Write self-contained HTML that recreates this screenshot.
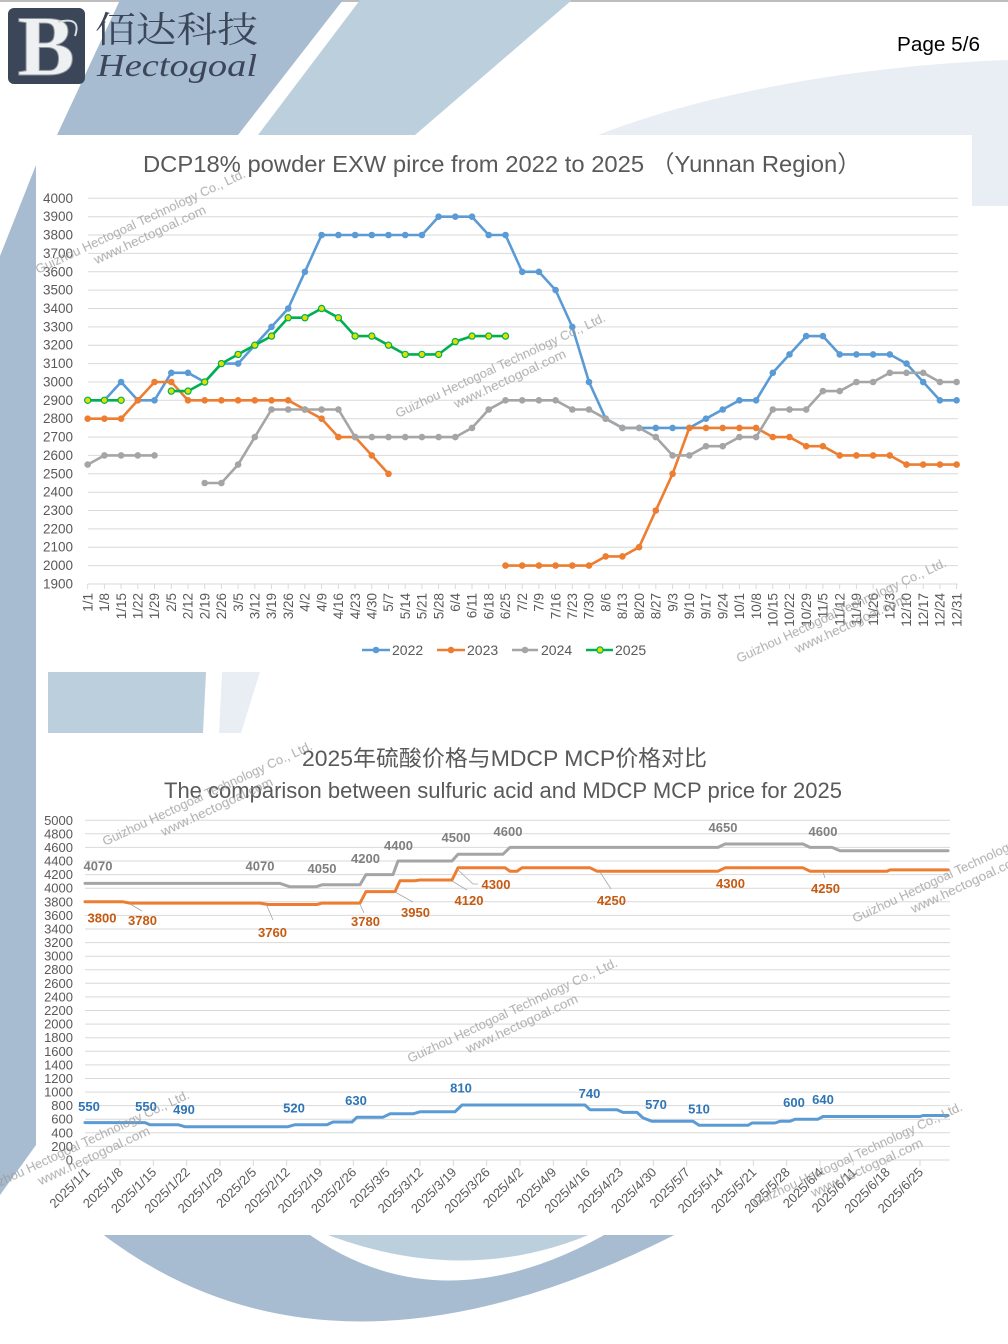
<!DOCTYPE html>
<html><head><meta charset="utf-8"><style>
html,body{margin:0;padding:0;background:#fff}
svg{display:block}
.t{font-family:"Liberation Sans","Noto Sans CJK SC",sans-serif;fill:#595959}
.yl{font-size:13.5px;text-anchor:end}
.yl2{font-size:13px;text-anchor:end}
.xl{font-size:13.5px;text-anchor:end}
.xl2{font-size:13px;text-anchor:end}
.lg{font-size:14px}
.dl{font-family:"Liberation Sans",sans-serif;font-weight:bold;font-size:13px;text-anchor:middle}
.wm{font-family:"Liberation Sans",sans-serif;font-size:13px;fill:#9a9a9a;opacity:.8}
</style></head><body>
<svg xmlns="http://www.w3.org/2000/svg" width="1008" height="1344" viewBox="0 0 1008 1344">
<defs>
<marker id="mb" markerUnits="userSpaceOnUse" markerWidth="10" markerHeight="10" refX="5" refY="5"><circle cx="5" cy="5" r="3.3" fill="#5b9bd5"/></marker>
<marker id="mo" markerUnits="userSpaceOnUse" markerWidth="10" markerHeight="10" refX="5" refY="5"><circle cx="5" cy="5" r="3.3" fill="#ed7d31"/></marker>
<marker id="mg" markerUnits="userSpaceOnUse" markerWidth="10" markerHeight="10" refX="5" refY="5"><circle cx="5" cy="5" r="3.3" fill="#a5a5a5"/></marker>
<marker id="my" markerUnits="userSpaceOnUse" markerWidth="10" markerHeight="10" refX="5" refY="5"><circle cx="5" cy="5" r="3.1" fill="#e2df00" stroke="#00b050" stroke-width="1.2"/></marker>
</defs>

<!-- background -->
<rect width="1008" height="1344" fill="#fff"/>
<rect x="0" y="0" width="1008" height="2" fill="#bdbdbd"/>
<path d="M120,0 L343,0 L238,135 L57,135 Z" fill="#a7bcd1"/>
<path d="M360,0 L572,0 L415,135 L258,135 Z" fill="#bccfdc"/>
<path d="M598,135 C700,95 850,66 1008,60 L1008,206 L972,206 L972,135 Z" fill="#e9eef4"/>
<path d="M36,165 L36,1145 L0,1195 L0,256 Z" fill="#a7bcd1"/>
<path d="M48,672 L206,672 L203,733 L48,733 Z" fill="#bccfdc"/>
<path d="M222,672 L260,672 L241,733 L219,733 Z" fill="#e9eef4"/>
<path d="M97,1230 Q331,1413 684,1230 L613,1230 Q440,1331 303,1230 Z" fill="#a7bcd1"/>
<path d="M315,1230 Q465,1291 600,1230 Z" fill="#bccfdc"/>

<!-- panels -->
<rect x="36" y="135" width="936" height="537" fill="#fff"/>
<rect x="36" y="733" width="972" height="502" fill="#fff"/>

<!-- logo -->
<rect x="8" y="8" width="77" height="76" rx="6" fill="#3b4658"/>
<text x="46" y="75" font-family="Liberation Serif" font-weight="bold" font-size="86" fill="#eef0f2" stroke="#8d949c" stroke-width="1" text-anchor="middle">B</text>
<path d="M58,22 Q82,16 75,36" fill="none" stroke="#d8dce0" stroke-width="2"/>
<text x="95" y="42" font-family="'Noto Serif CJK SC','Noto Sans CJK SC',serif" font-size="36" fill="#3b4658" textLength="163" lengthAdjust="spacingAndGlyphs">佰达科技</text>
<text x="97" y="76" font-family="'Liberation Serif',serif" font-style="italic" font-size="32" fill="#3b4658" textLength="160" lengthAdjust="spacingAndGlyphs">Hectogoal</text>
<text x="897" y="51" font-family="'Liberation Sans',sans-serif" font-size="20" fill="#000" textLength="83" lengthAdjust="spacingAndGlyphs">Page 5/6</text>

<!-- ============ CHART 1 ============ -->
<text class="t" x="143" y="172" font-size="23.5" textLength="718" lengthAdjust="spacingAndGlyphs">DCP18% powder EXW pirce from 2022 to 2025 （Yunnan Region）</text>

<path stroke="#d9d9d9" stroke-width="1" fill="none" d="M88,198.3H958M88,216.7H958M88,235H958M88,253.4H958M88,271.8H958M88,290.1H958M88,308.5H958M88,326.9H958M88,345.2H958M88,363.6H958M88,382H958M88,400.3H958M88,418.7H958M88,437.1H958M88,455.4H958M88,473.8H958M88,492.2H958M88,510.5H958M88,528.9H958M88,547.2H958M88,565.6H958M88,584H958"/>
<path stroke="#d9d9d9" stroke-width="1" fill="none" d="M87.7,584v5M104.4,584v5M121.1,584v5M137.8,584v5M154.5,584v5M171.3,584v5M188,584v5M204.7,584v5M221.4,584v5M238.1,584v5M254.8,584v5M271.5,584v5M288.2,584v5M304.9,584v5M321.6,584v5M338.4,584v5M355.1,584v5M371.8,584v5M388.5,584v5M405.2,584v5M421.9,584v5M438.6,584v5M455.3,584v5M472,584v5M488.7,584v5M505.5,584v5M522.2,584v5M538.9,584v5M555.6,584v5M572.3,584v5M589,584v5M605.7,584v5M622.4,584v5M639.1,584v5M655.8,584v5M672.6,584v5M689.3,584v5M706,584v5M722.7,584v5M739.4,584v5M756.1,584v5M772.8,584v5M789.5,584v5M806.2,584v5M822.9,584v5M839.7,584v5M856.4,584v5M873.1,584v5M889.8,584v5M906.5,584v5M923.2,584v5M939.9,584v5M956.6,584v5"/>

<g class="t yl">
<text x="73" y="202.8">4000</text><text x="73" y="221.2">3900</text><text x="73" y="239.5">3800</text><text x="73" y="257.9">3700</text><text x="73" y="276.3">3600</text><text x="73" y="294.6">3500</text><text x="73" y="313">3400</text><text x="73" y="331.4">3300</text><text x="73" y="349.7">3200</text><text x="73" y="368.1">3100</text><text x="73" y="386.5">3000</text><text x="73" y="404.8">2900</text><text x="73" y="423.2">2800</text><text x="73" y="441.6">2700</text><text x="73" y="459.9">2600</text><text x="73" y="478.3">2500</text><text x="73" y="496.7">2400</text><text x="73" y="515">2300</text><text x="73" y="533.4">2200</text><text x="73" y="551.7">2100</text><text x="73" y="570.1">2000</text><text x="73" y="588.5">1900</text>
</g>

<g class="t xl">
<text transform="translate(92.4,593) rotate(-90)">1/1</text>
<text transform="translate(109.1,593) rotate(-90)">1/8</text>
<text transform="translate(125.8,593) rotate(-90)">1/15</text>
<text transform="translate(142.5,593) rotate(-90)">1/22</text>
<text transform="translate(159.2,593) rotate(-90)">1/29</text>
<text transform="translate(176,593) rotate(-90)">2/5</text>
<text transform="translate(192.7,593) rotate(-90)">2/12</text>
<text transform="translate(209.4,593) rotate(-90)">2/19</text>
<text transform="translate(226.1,593) rotate(-90)">2/26</text>
<text transform="translate(242.8,593) rotate(-90)">3/5</text>
<text transform="translate(259.5,593) rotate(-90)">3/12</text>
<text transform="translate(276.2,593) rotate(-90)">3/19</text>
<text transform="translate(292.9,593) rotate(-90)">3/26</text>
<text transform="translate(309.6,593) rotate(-90)">4/2</text>
<text transform="translate(326.3,593) rotate(-90)">4/9</text>
<text transform="translate(343.1,593) rotate(-90)">4/16</text>
<text transform="translate(359.8,593) rotate(-90)">4/23</text>
<text transform="translate(376.5,593) rotate(-90)">4/30</text>
<text transform="translate(393.2,593) rotate(-90)">5/7</text>
<text transform="translate(409.9,593) rotate(-90)">5/14</text>
<text transform="translate(426.6,593) rotate(-90)">5/21</text>
<text transform="translate(443.3,593) rotate(-90)">5/28</text>
<text transform="translate(460,593) rotate(-90)">6/4</text>
<text transform="translate(476.7,593) rotate(-90)">6/11</text>
<text transform="translate(493.4,593) rotate(-90)">6/18</text>
<text transform="translate(510.2,593) rotate(-90)">6/25</text>
<text transform="translate(526.9,593) rotate(-90)">7/2</text>
<text transform="translate(543.6,593) rotate(-90)">7/9</text>
<text transform="translate(560.3,593) rotate(-90)">7/16</text>
<text transform="translate(577,593) rotate(-90)">7/23</text>
<text transform="translate(593.7,593) rotate(-90)">7/30</text>
<text transform="translate(610.4,593) rotate(-90)">8/6</text>
<text transform="translate(627.1,593) rotate(-90)">8/13</text>
<text transform="translate(643.8,593) rotate(-90)">8/20</text>
<text transform="translate(660.5,593) rotate(-90)">8/27</text>
<text transform="translate(677.3,593) rotate(-90)">9/3</text>
<text transform="translate(694,593) rotate(-90)">9/10</text>
<text transform="translate(710.7,593) rotate(-90)">9/17</text>
<text transform="translate(727.4,593) rotate(-90)">9/24</text>
<text transform="translate(744.1,593) rotate(-90)">10/1</text>
<text transform="translate(760.8,593) rotate(-90)">10/8</text>
<text transform="translate(777.5,593) rotate(-90)">10/15</text>
<text transform="translate(794.2,593) rotate(-90)">10/22</text>
<text transform="translate(810.9,593) rotate(-90)">10/29</text>
<text transform="translate(827.6,593) rotate(-90)">11/5</text>
<text transform="translate(844.4,593) rotate(-90)">11/12</text>
<text transform="translate(861.1,593) rotate(-90)">11/19</text>
<text transform="translate(877.8,593) rotate(-90)">11/26</text>
<text transform="translate(894.5,593) rotate(-90)">12/3</text>
<text transform="translate(911.2,593) rotate(-90)">12/10</text>
<text transform="translate(927.9,593) rotate(-90)">12/17</text>
<text transform="translate(944.6,593) rotate(-90)">12/24</text>
<text transform="translate(961.3,593) rotate(-90)">12/31</text>
</g>

<g fill="none" stroke-width="2.6" stroke-linejoin="round" stroke-linecap="round">
<polyline stroke="#5b9bd5" marker-start="url(#mb)" marker-mid="url(#mb)" marker-end="url(#mb)" points="87.7,400.3 104.4,400.3 121.1,382 137.8,400.3 154.5,400.3 171.3,372.8 188,372.8 204.7,382 221.4,363.6 238.1,363.6 254.8,345.2 271.5,326.9 288.2,308.5 304.9,271.8 321.6,235 338.4,235 355.1,235 371.8,235 388.5,235 405.2,235 421.9,235 438.6,216.7 455.3,216.7 472,216.7 488.7,235 505.5,235 522.2,271.8 538.9,271.8 555.6,290.1 572.3,326.9 589,382 605.7,418.7 622.4,427.9 639.1,427.9 655.8,427.9 672.6,427.9 689.3,427.9 706,418.7 722.7,409.5 739.4,400.3 756.1,400.3 772.8,372.8 789.5,354.4 806.2,336.1 822.9,336.1 839.7,354.4 856.4,354.4 873.1,354.4 889.8,354.4 906.5,363.6 923.2,382 939.9,400.3 956.6,400.3"/>
<polyline stroke="#ed7d31" marker-start="url(#mo)" marker-mid="url(#mo)" marker-end="url(#mo)" points="87.7,418.7 104.4,418.7 121.1,418.7 137.8,400.3 154.5,382 171.3,382 188,400.3 204.7,400.3 221.4,400.3 238.1,400.3 254.8,400.3 271.5,400.3 288.2,400.3 304.9,409.5 321.6,418.7 338.4,437.1 355.1,437.1 371.8,455.4 388.5,473.8"/>
<polyline stroke="#ed7d31" marker-start="url(#mo)" marker-mid="url(#mo)" marker-end="url(#mo)" points="505.5,565.6 522.2,565.6 538.9,565.6 555.6,565.6 572.3,565.6 589,565.6 605.7,556.4 622.4,556.4 639.1,547.2 655.8,510.5 672.6,473.8 689.3,427.9 706,427.9 722.7,427.9 739.4,427.9 756.1,427.9 772.8,437.1 789.5,437.1 806.2,446.2 822.9,446.2 839.7,455.4 856.4,455.4 873.1,455.4 889.8,455.4 906.5,464.6 923.2,464.6 939.9,464.6 956.6,464.6"/>
<polyline stroke="#a5a5a5" marker-start="url(#mg)" marker-mid="url(#mg)" marker-end="url(#mg)" points="87.7,464.6 104.4,455.4 121.1,455.4 137.8,455.4 154.5,455.4"/>
<polyline stroke="#a5a5a5" marker-start="url(#mg)" marker-mid="url(#mg)" marker-end="url(#mg)" points="204.7,483 221.4,483 238.1,464.6 254.8,437.1 271.5,409.5 288.2,409.5 304.9,409.5 321.6,409.5 338.4,409.5 355.1,437.1 371.8,437.1 388.5,437.1 405.2,437.1 421.9,437.1 438.6,437.1 455.3,437.1 472,427.9 488.7,409.5 505.5,400.3 522.2,400.3 538.9,400.3 555.6,400.3 572.3,409.5 589,409.5 605.7,418.7 622.4,427.9 639.1,427.9 655.8,437.1 672.6,455.4 689.3,455.4 706,446.2 722.7,446.2 739.4,437.1 756.1,437.1 772.8,409.5 789.5,409.5 806.2,409.5 822.9,391.1 839.7,391.1 856.4,382 873.1,382 889.8,372.8 906.5,372.8 923.2,372.8 939.9,382 956.6,382"/>
<polyline stroke="#00b050" marker-start="url(#my)" marker-mid="url(#my)" marker-end="url(#my)" points="87.7,400.3 104.4,400.3 121.1,400.3"/>
<polyline stroke="#00b050" marker-start="url(#my)" marker-mid="url(#my)" marker-end="url(#my)" points="171.3,391.1 188,391.1 204.7,382 221.4,363.6 238.1,354.4 254.8,345.2 271.5,336.1 288.2,317.7 304.9,317.7 321.6,308.5 338.4,317.7 355.1,336.1 371.8,336.1 388.5,345.2 405.2,354.4 421.9,354.4 438.6,354.4 455.3,341.6 472,336.1 488.7,336.1 505.5,336.1"/>
</g>

<!-- legend -->
<g stroke-width="2.6">
<line x1="362" y1="650" x2="390" y2="650" stroke="#5b9bd5"/><circle cx="376" cy="650" r="3.3" fill="#5b9bd5"/>
<line x1="437" y1="650" x2="465" y2="650" stroke="#ed7d31"/><circle cx="451" cy="650" r="3.3" fill="#ed7d31"/>
<line x1="512" y1="650" x2="538" y2="650" stroke="#a5a5a5"/><circle cx="525" cy="650" r="3.3" fill="#a5a5a5"/>
<line x1="586" y1="650" x2="613" y2="650" stroke="#00b050"/><circle cx="600" cy="650" r="3.1" fill="#e2df00" stroke="#00b050" stroke-width="1.2"/>
</g>
<g class="t lg">
<text x="392" y="655">2022</text><text x="467" y="655">2023</text><text x="541" y="655">2024</text><text x="615" y="655">2025</text>
</g>

<!-- ============ CHART 2 ============ -->
<text class="t" x="302" y="766" font-size="22" textLength="405" lengthAdjust="spacingAndGlyphs">2025年硫酸价格与MDCP MCP价格对比</text>
<text class="t" x="164" y="798" font-size="22" textLength="678" lengthAdjust="spacingAndGlyphs">The comparison between sulfuric acid and MDCP MCP price for 2025</text>

<path stroke="#d9d9d9" stroke-width="1" fill="none" d="M85,820.3H950M85,833.8H950M85,847.4H950M85,861H950M85,874.6H950M85,888.2H950M85,901.8H950M85,915.4H950M85,929H950M85,942.6H950M85,956.2H950M85,969.7H950M85,983.3H950M85,996.9H950M85,1010.5H950M85,1024.1H950M85,1037.7H950M85,1051.3H950M85,1064.9H950M85,1078.5H950M85,1092.1H950M85,1105.6H950M85,1119.2H950M85,1132.8H950M85,1146.4H950M85,1160H950"/>
<path stroke="#d9d9d9" stroke-width="1" fill="none" d="M86.7,1160v6M120,1160v6M153.3,1160v6M186.7,1160v6M220,1160v6M253.3,1160v6M286.7,1160v6M320,1160v6M353.3,1160v6M386.7,1160v6M420,1160v6M453.3,1160v6M486.7,1160v6M520,1160v6M553.3,1160v6M586.7,1160v6M620,1160v6M653.3,1160v6M686.7,1160v6M720,1160v6M753.3,1160v6M786.7,1160v6M820,1160v6M853.3,1160v6M886.7,1160v6M920,1160v6"/>

<g class="t yl2">
<text x="73" y="824.8">5000</text><text x="73" y="838.3">4800</text><text x="73" y="851.9">4600</text><text x="73" y="865.5">4400</text><text x="73" y="879.1">4200</text><text x="73" y="892.7">4000</text><text x="73" y="906.3">3800</text><text x="73" y="919.9">3600</text><text x="73" y="933.5">3400</text><text x="73" y="947.1">3200</text><text x="73" y="960.7">3000</text><text x="73" y="974.2">2800</text><text x="73" y="987.8">2600</text><text x="73" y="1001.4">2400</text><text x="73" y="1015">2200</text><text x="73" y="1028.6">2000</text><text x="73" y="1042.2">1800</text><text x="73" y="1055.8">1600</text><text x="73" y="1069.4">1400</text><text x="73" y="1083">1200</text><text x="73" y="1096.6">1000</text><text x="73" y="1110.1">800</text><text x="73" y="1123.7">600</text><text x="73" y="1137.3">400</text><text x="73" y="1150.9">200</text><text x="73" y="1164.5">0</text>
</g>

<g class="t xl2">
<text transform="translate(90.7,1173) rotate(-45)">2025/1/1</text>
<text transform="translate(124,1173) rotate(-45)">2025/1/8</text>
<text transform="translate(157.3,1173) rotate(-45)">2025/1/15</text>
<text transform="translate(190.7,1173) rotate(-45)">2025/1/22</text>
<text transform="translate(224,1173) rotate(-45)">2025/1/29</text>
<text transform="translate(257.3,1173) rotate(-45)">2025/2/5</text>
<text transform="translate(290.7,1173) rotate(-45)">2025/2/12</text>
<text transform="translate(324,1173) rotate(-45)">2025/2/19</text>
<text transform="translate(357.3,1173) rotate(-45)">2025/2/26</text>
<text transform="translate(390.7,1173) rotate(-45)">2025/3/5</text>
<text transform="translate(424,1173) rotate(-45)">2025/3/12</text>
<text transform="translate(457.3,1173) rotate(-45)">2025/3/19</text>
<text transform="translate(490.7,1173) rotate(-45)">2025/3/26</text>
<text transform="translate(524,1173) rotate(-45)">2025/4/2</text>
<text transform="translate(557.3,1173) rotate(-45)">2025/4/9</text>
<text transform="translate(590.7,1173) rotate(-45)">2025/4/16</text>
<text transform="translate(624,1173) rotate(-45)">2025/4/23</text>
<text transform="translate(657.3,1173) rotate(-45)">2025/4/30</text>
<text transform="translate(690.7,1173) rotate(-45)">2025/5/7</text>
<text transform="translate(724,1173) rotate(-45)">2025/5/14</text>
<text transform="translate(757.3,1173) rotate(-45)">2025/5/21</text>
<text transform="translate(790.7,1173) rotate(-45)">2025/5/28</text>
<text transform="translate(824,1173) rotate(-45)">2025/6/4</text>
<text transform="translate(857.3,1173) rotate(-45)">2025/6/11</text>
<text transform="translate(890.7,1173) rotate(-45)">2025/6/18</text>
<text transform="translate(924,1173) rotate(-45)">2025/6/25</text>
</g>

<g fill="none" stroke-width="3" stroke-linejoin="round" stroke-linecap="round">
<path stroke="#a5a5a5" d="M85,883.4 L280,883.4 L290,886.8 L316,886.8 L322,884.8 L360,884.8 L366,874.6 L393,874.6 L398,861 L452,861 L458,854.2 L503,854.2 L510,847.4 L718,847.4 L725,844 L803,844 L810,847.4 L832,847.4 L840,850.8 L948,850.8"/>
<path stroke="#ed7d31" d="M85,901.8 L123,901.8 L130,903.1 L260,903.1 L268,904.5 L317,904.5 L322,903.1 L360,903.1 L366,891.6 L395,891.6 L400,880.7 L415,880.7 L420,880 L452,880 L458,867.8 L505,867.8 L510,871.2 L517,871.2 L522,867.8 L590,867.8 L597,871.2 L718,871.2 L725,867.8 L803,867.8 L810,871.2 L887,871.2 L890,869.9 L948,869.9"/>
<path stroke="#5b9bd5" d="M85,1122.6 L145,1122.6 L150,1124.7 L178,1124.7 L185,1126.7 L288,1126.7 L295,1124.7 L327,1124.7 L333,1122 L352,1122 L357,1117.2 L383,1117.2 L390,1113.8 L413,1113.8 L420,1111.8 L455,1111.8 L462,1105 L585,1105 L590,1109.7 L617,1109.7 L623,1112.4 L637,1112.4 L643,1117.9 L652,1121.3 L693,1121.3 L699,1125.3 L748,1125.3 L752,1123 L775,1123 L780,1121.3 L790,1121.3 L795,1119.2 L818,1119.2 L823,1116.5 L920,1116.5 L923,1115.5 L948,1115.5"/>
</g>

<!-- leader lines -->
<path stroke="#a6a6a6" stroke-width="0.8" fill="none" d="M130,904L142,911M267,906L273,920M360,904L364,913M395,892L413,902M452,881L467,890M457,869L473,884L478,884M600,872L611,889M823,872L825,878"/>

<!-- data labels -->
<g class="dl" fill="#7f7f7f">
<text x="98" y="870.5">4070</text><text x="260" y="870.5">4070</text><text x="322" y="873">4050</text><text x="365.5" y="863">4200</text><text x="398.5" y="850">4400</text><text x="456" y="842">4500</text><text x="508" y="836">4600</text><text x="723" y="832">4650</text><text x="823" y="836">4600</text>
</g>
<g class="dl" fill="#c55a11">
<text x="102" y="922.7">3800</text><text x="142.5" y="925">3780</text><text x="272.5" y="937">3760</text><text x="365.5" y="926">3780</text><text x="415.5" y="917">3950</text><text x="469" y="905">4120</text><text x="496" y="889">4300</text><text x="611.5" y="905">4250</text><text x="730.5" y="888">4300</text><text x="825.5" y="893">4250</text>
</g>
<g class="dl" fill="#2e75b6">
<text x="89" y="1111">550</text><text x="146" y="1111">550</text><text x="184" y="1114">490</text><text x="294" y="1112.7">520</text><text x="356" y="1105">630</text><text x="461" y="1092.7">810</text><text x="589.5" y="1098">740</text><text x="656" y="1109">570</text><text x="699" y="1113.5">510</text><text x="794" y="1107">600</text><text x="823" y="1104">640</text>
</g>

<!-- watermarks -->
<g class="wm">
<g transform="translate(38,274) rotate(-25)"><text x="0" y="0" textLength="230" lengthAdjust="spacingAndGlyphs">Guizhou Hectogoal Technology Co., Ltd.</text><text x="57" y="16" textLength="122" lengthAdjust="spacingAndGlyphs">www.hectogoal.com</text></g>
<g transform="translate(398,418) rotate(-25)"><text x="0" y="0" textLength="230" lengthAdjust="spacingAndGlyphs">Guizhou Hectogoal Technology Co., Ltd.</text><text x="57" y="16" textLength="122" lengthAdjust="spacingAndGlyphs">www.hectogoal.com</text></g>
<g transform="translate(739,663) rotate(-25)"><text x="0" y="0" textLength="230" lengthAdjust="spacingAndGlyphs">Guizhou Hectogoal Technology Co., Ltd.</text><text x="57" y="16" textLength="122" lengthAdjust="spacingAndGlyphs">www.hectogoal.com</text></g>
<g transform="translate(105,846) rotate(-25)"><text x="0" y="0" textLength="230" lengthAdjust="spacingAndGlyphs">Guizhou Hectogoal Technology Co., Ltd.</text><text x="57" y="16" textLength="122" lengthAdjust="spacingAndGlyphs">www.hectogoal.com</text></g>
<g transform="translate(410,1063) rotate(-25)"><text x="0" y="0" textLength="230" lengthAdjust="spacingAndGlyphs">Guizhou Hectogoal Technology Co., Ltd.</text><text x="57" y="16" textLength="122" lengthAdjust="spacingAndGlyphs">www.hectogoal.com</text></g>
<g transform="translate(855,923) rotate(-25)"><text x="0" y="0" textLength="230" lengthAdjust="spacingAndGlyphs">Guizhou Hectogoal Technology Co., Ltd.</text><text x="57" y="16" textLength="122" lengthAdjust="spacingAndGlyphs">www.hectogoal.com</text></g>
<g transform="translate(-18,1195) rotate(-25)"><text x="0" y="0" textLength="230" lengthAdjust="spacingAndGlyphs">Guizhou Hectogoal Technology Co., Ltd.</text><text x="57" y="16" textLength="122" lengthAdjust="spacingAndGlyphs">www.hectogoal.com</text></g>
<g transform="translate(755,1207) rotate(-25)"><text x="0" y="0" textLength="230" lengthAdjust="spacingAndGlyphs">Guizhou Hectogoal Technology Co., Ltd.</text><text x="57" y="16" textLength="122" lengthAdjust="spacingAndGlyphs">www.hectogoal.com</text></g>
</g>
</svg>
</body></html>
